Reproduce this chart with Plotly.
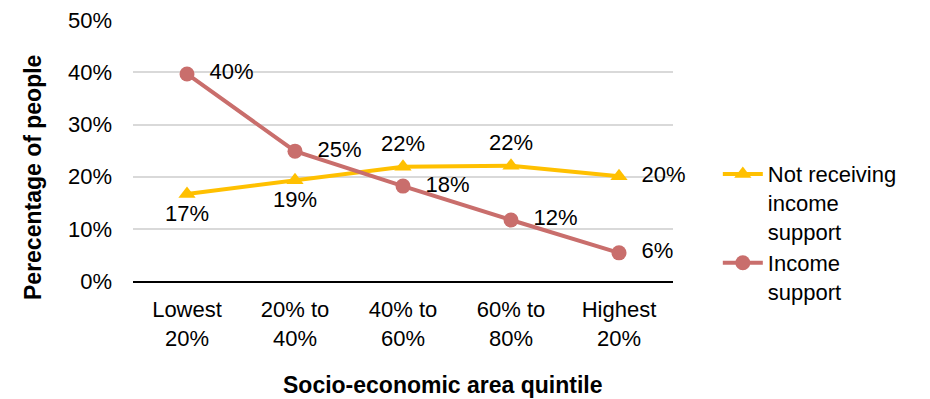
import plotly.graph_objects as go

categories = ["Lowest<br>20%", "20% to<br>40%", "40% to<br>60%", "60% to<br>80%", "Highest<br>20%"]
not_receiving = [16.7, 19.3, 21.9, 22.1, 20.1]
income_support = [39.7, 24.9, 18.2, 11.7, 5.4]
not_receiving_labels = ["17%", "19%", "22%", "22%", "  20%"]
income_support_labels = ["  40%", "  25%", "  18%", "  12%", "  6%"]
y_ticks = [0, 10, 20, 30, 40, 50]
y_tick_labels = ["0%", "10%", "20%", "30%", "40%", "50%"]

FONT = "Liberation Sans, Arial, sans-serif"
FS = 22

fig = go.Figure()
fig.add_trace(go.Scatter(
    x=categories, y=not_receiving, name="Not receiving<br>income<br>support",
    mode="lines+markers+text", text=not_receiving_labels,
    textposition=["bottom center", "bottom center", "top center", "top center", "middle right"],
    textfont=dict(size=FS, color="#000000", family=FONT),
    line=dict(color="#FFC000", width=4),
    marker=dict(symbol="triangle-up", size=15, color="#FFC000"),
    cliponaxis=False,
))
fig.add_trace(go.Scatter(
    x=categories, y=income_support, name="Income<br>support",
    mode="lines+markers+text", text=income_support_labels,
    textposition="middle right",
    textfont=dict(size=FS, color="#000000", family=FONT),
    line=dict(color="#C96E6C", width=4),
    marker=dict(symbol="circle", size=15, color="#C96E6C"),
    cliponaxis=False,
))

fig.update_layout(
    width=922, height=391,
    margin=dict(l=125, r=257, t=12, b=118),
    plot_bgcolor="white", paper_bgcolor="white",
    font=dict(family=FONT, size=FS, color="#000000"),
    legend=dict(x=1.083, y=0.49, xanchor="left", yanchor="top", valign="top",
                font=dict(size=FS, family=FONT), tracegroupgap=4, itemwidth=40),
    xaxis=dict(
        type="category", showgrid=False, showline=True, linecolor="#000000", linewidth=2,
        ticks="", tickfont=dict(size=FS), range=[-0.5, 4.5], automargin=False,
        ticklabelstandoff=8,
    ),
    yaxis=dict(
        range=[0, 50.05], tickvals=y_ticks, ticktext=y_tick_labels,
        showgrid=True, gridcolor="#D9D9D9", gridwidth=2, zeroline=False,
        ticks="", tickfont=dict(size=FS), automargin=False, ticklabelstandoff=20,
        ticklabeloverflow="allow",
    ),
    annotations=[
        dict(text="<b>Socio-economic area quintile</b>", xref="paper", yref="paper",
             x=0.574, y=-0.398, xanchor="center", yanchor="middle", showarrow=False,
             font=dict(size=23, family=FONT, color="#000000")),
        dict(text="<b>Perecentage of people</b>", xref="paper", yref="paper",
             x=-0.185, y=0.395, xanchor="center", yanchor="middle", showarrow=False,
             textangle=-90, font=dict(size=23, family=FONT, color="#000000")),
    ],
)
fig.write_html("out.html")
